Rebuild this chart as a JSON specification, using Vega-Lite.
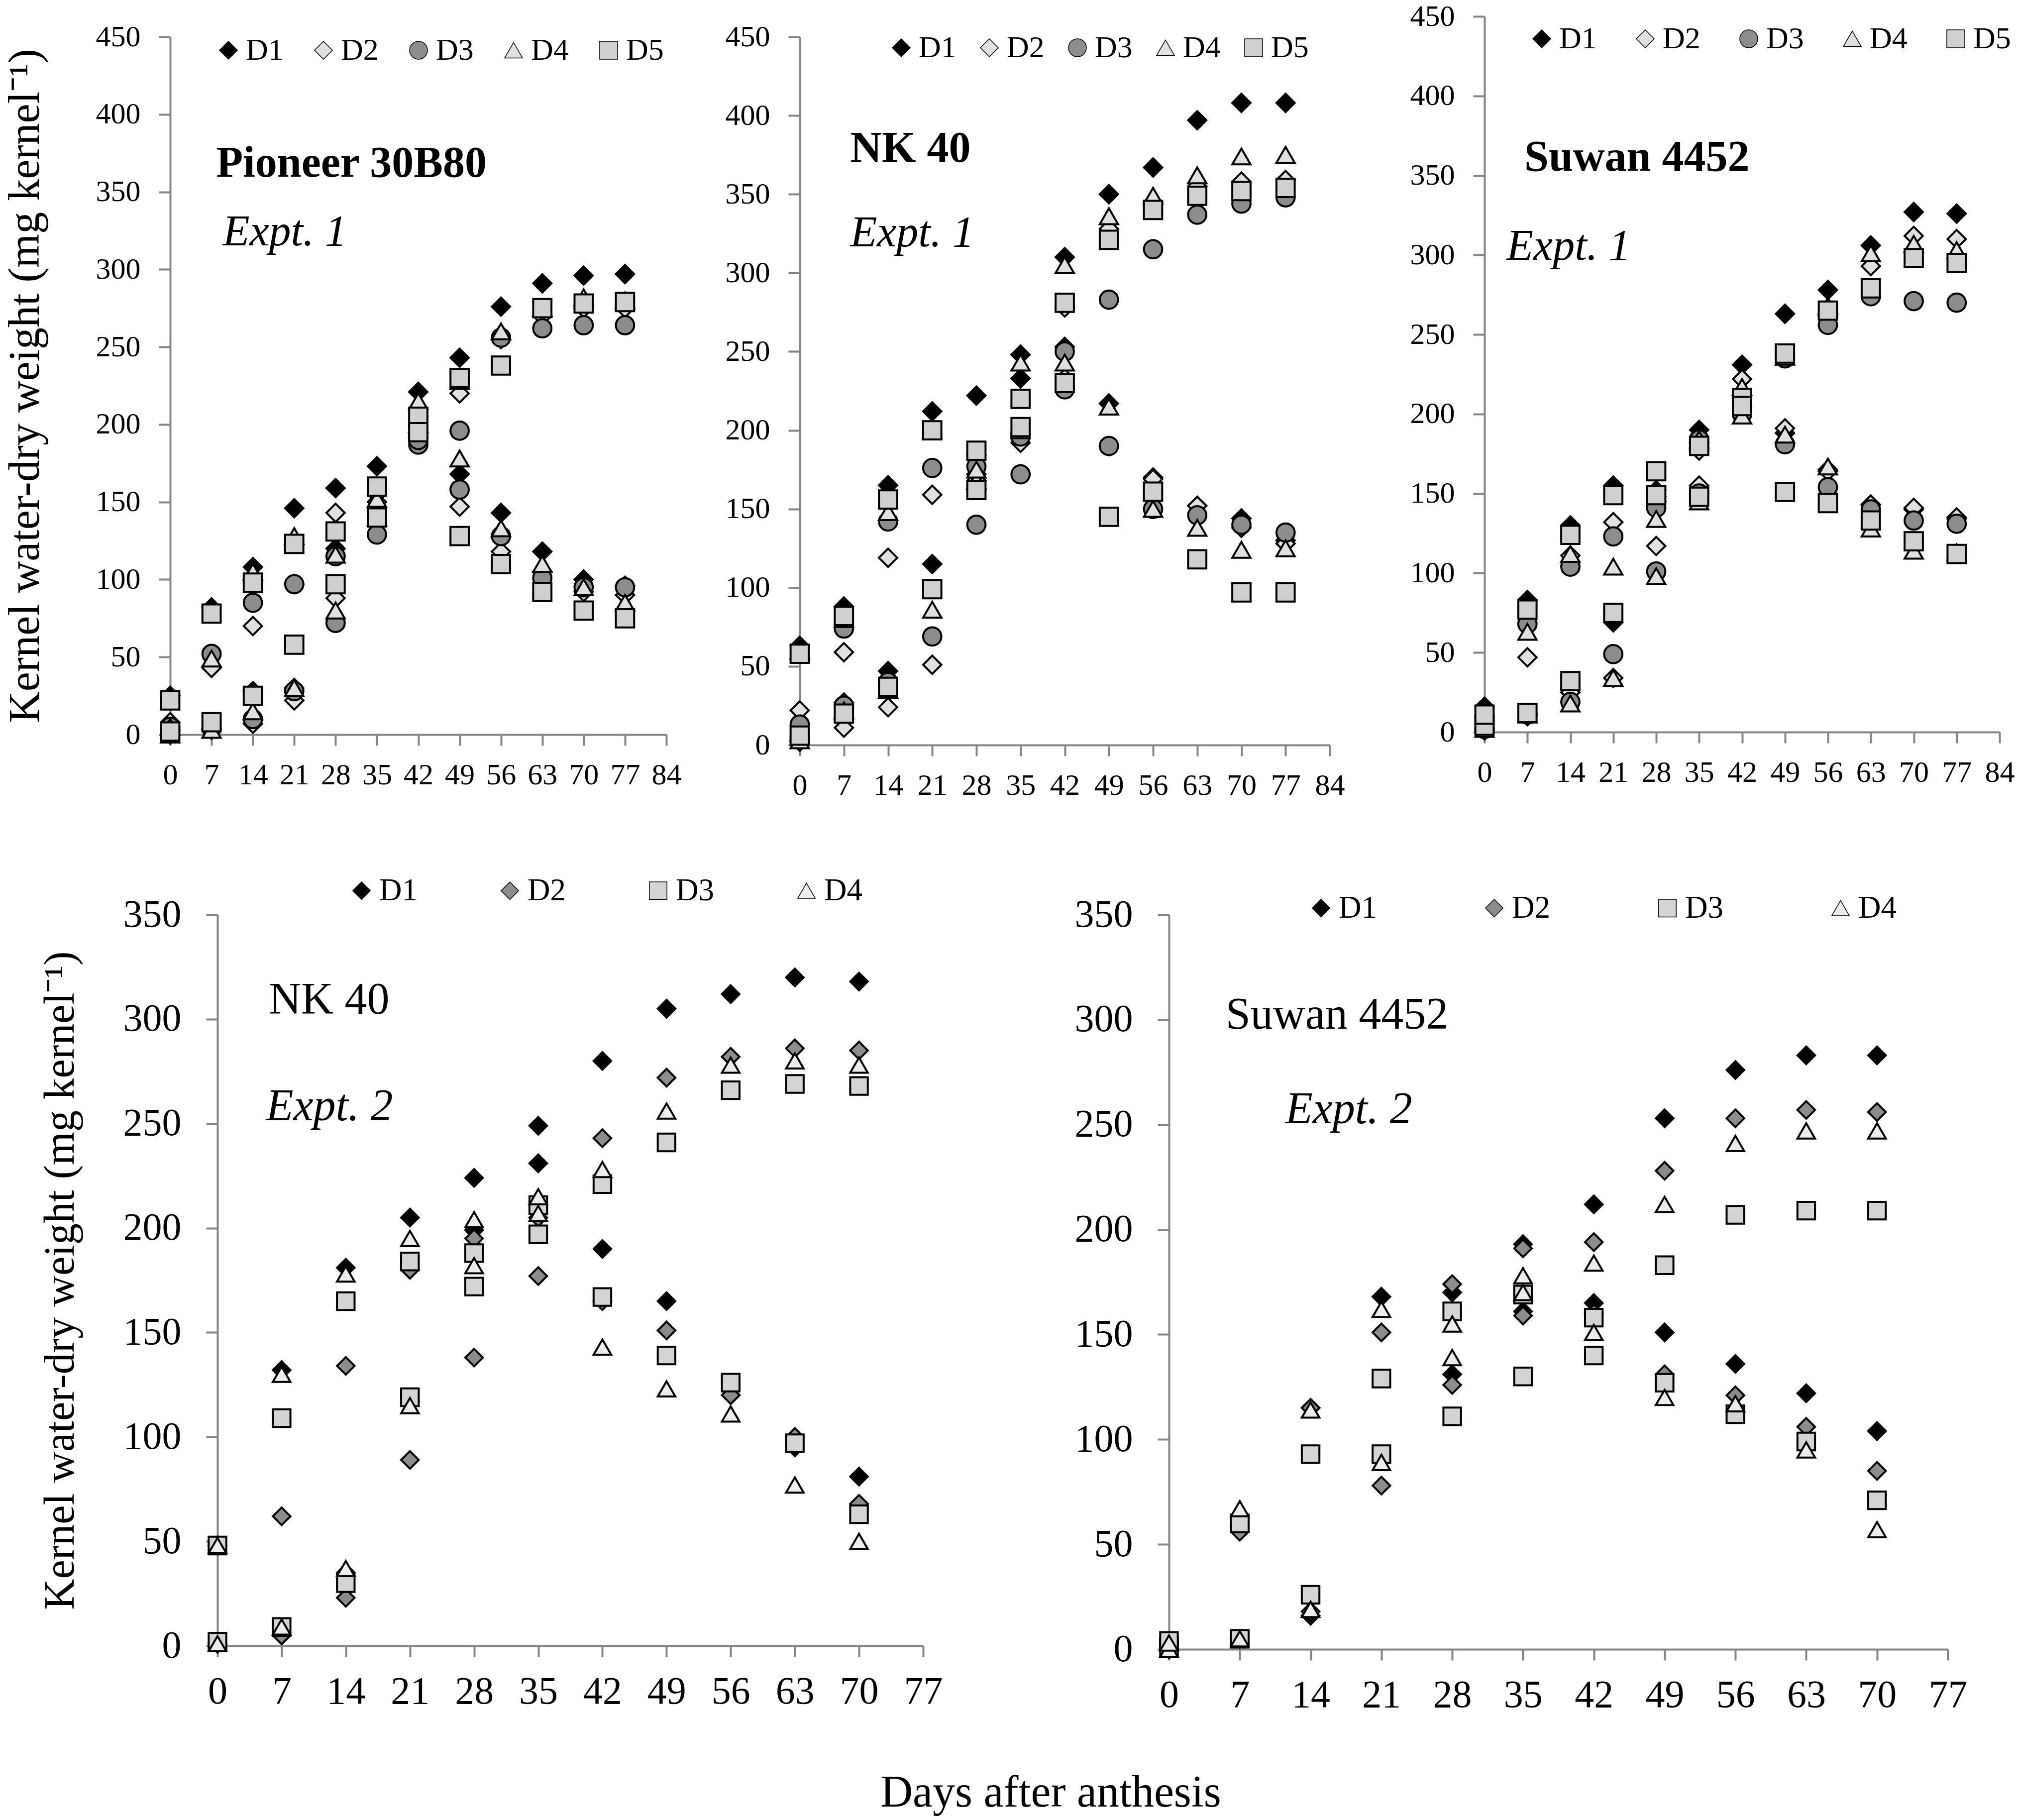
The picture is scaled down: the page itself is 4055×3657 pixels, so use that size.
{
  "$schema": "https://vega.github.io/schema/vega-lite/v6.json",
  "background": "white",
  "padding": {"left": 7, "top": 3, "right": 5, "bottom": 7},
  "config": {
    "font": "Liberation Serif",
    "view": {"stroke": null},
    "axis": {
      "domainColor": "#868686", "tickColor": "#868686", "domainWidth": 4, "tickWidth": 4,
      "grid": false, "labelColor": "black", "labelFont": "Liberation Serif",
      "titleFont": "Liberation Serif", "titleFontWeight": "normal", "titleColor": "black",
      "labelFlush": false, "labelOverlap": false
    },
    "legend": {"labelFont": "Liberation Serif", "labelColor": "black"},
    "title": {"font": "Liberation Serif", "color": "black", "fontWeight": "normal"}
  },
  "title": {
    "text": "Days after anthesis", "orient": "bottom", "anchor": "middle",
    "fontSize": 90, "offset": 114, "dx": 84
  },
  "datasets": {
    "kw": [
      {"p": "A", "s": "D1", "d": 0, "dry": 0, "water": 25},
      {"p": "A", "s": "D1", "d": 7, "dry": 4, "water": 82},
      {"p": "A", "s": "D1", "d": 14, "dry": 28, "water": 108},
      {"p": "A", "s": "D1", "d": 21, "dry": 30, "water": 146},
      {"p": "A", "s": "D1", "d": 28, "dry": 120, "water": 159},
      {"p": "A", "s": "D1", "d": 35, "dry": 155, "water": 173},
      {"p": "A", "s": "D1", "d": 42, "dry": 221, "water": 195},
      {"p": "A", "s": "D1", "d": 49, "dry": 243, "water": 168},
      {"p": "A", "s": "D1", "d": 56, "dry": 276, "water": 143},
      {"p": "A", "s": "D1", "d": 63, "dry": 291, "water": 118},
      {"p": "A", "s": "D1", "d": 70, "dry": 296, "water": 100},
      {"p": "A", "s": "D1", "d": 77, "dry": 297, "water": 96},
      {"p": "A", "s": "D2", "d": 0, "dry": 3, "water": 8},
      {"p": "A", "s": "D2", "d": 7, "dry": 3, "water": 43},
      {"p": "A", "s": "D2", "d": 14, "dry": 7, "water": 70},
      {"p": "A", "s": "D2", "d": 21, "dry": 22, "water": 97},
      {"p": "A", "s": "D2", "d": 28, "dry": 88, "water": 143},
      {"p": "A", "s": "D2", "d": 35, "dry": 145, "water": 150},
      {"p": "A", "s": "D2", "d": 42, "dry": 205, "water": 192},
      {"p": "A", "s": "D2", "d": 49, "dry": 220, "water": 147},
      {"p": "A", "s": "D2", "d": 56, "dry": 255, "water": 118},
      {"p": "A", "s": "D2", "d": 63, "dry": 270, "water": 105},
      {"p": "A", "s": "D2", "d": 70, "dry": 275, "water": 92},
      {"p": "A", "s": "D2", "d": 77, "dry": 275, "water": 90},
      {"p": "A", "s": "D3", "d": 0, "dry": 2, "water": 5},
      {"p": "A", "s": "D3", "d": 7, "dry": 4, "water": 52},
      {"p": "A", "s": "D3", "d": 14, "dry": 10, "water": 85},
      {"p": "A", "s": "D3", "d": 21, "dry": 28, "water": 97},
      {"p": "A", "s": "D3", "d": 28, "dry": 72, "water": 115},
      {"p": "A", "s": "D3", "d": 35, "dry": 129, "water": 145},
      {"p": "A", "s": "D3", "d": 42, "dry": 187, "water": 190},
      {"p": "A", "s": "D3", "d": 49, "dry": 196, "water": 158},
      {"p": "A", "s": "D3", "d": 56, "dry": 256, "water": 128},
      {"p": "A", "s": "D3", "d": 63, "dry": 262, "water": 101},
      {"p": "A", "s": "D3", "d": 70, "dry": 264, "water": 95},
      {"p": "A", "s": "D3", "d": 77, "dry": 264, "water": 95},
      {"p": "A", "s": "D4", "d": 0, "dry": 0, "water": 5},
      {"p": "A", "s": "D4", "d": 7, "dry": 3, "water": 49},
      {"p": "A", "s": "D4", "d": 14, "dry": 15, "water": 105},
      {"p": "A", "s": "D4", "d": 21, "dry": 30, "water": 128},
      {"p": "A", "s": "D4", "d": 28, "dry": 80, "water": 116},
      {"p": "A", "s": "D4", "d": 35, "dry": 140, "water": 152},
      {"p": "A", "s": "D4", "d": 42, "dry": 215, "water": 200},
      {"p": "A", "s": "D4", "d": 49, "dry": 228, "water": 178},
      {"p": "A", "s": "D4", "d": 56, "dry": 260, "water": 133},
      {"p": "A", "s": "D4", "d": 63, "dry": 275, "water": 110},
      {"p": "A", "s": "D4", "d": 70, "dry": 282, "water": 95},
      {"p": "A", "s": "D4", "d": 77, "dry": 280, "water": 85},
      {"p": "A", "s": "D5", "d": 0, "dry": 2, "water": 22},
      {"p": "A", "s": "D5", "d": 7, "dry": 8, "water": 78},
      {"p": "A", "s": "D5", "d": 14, "dry": 25, "water": 98},
      {"p": "A", "s": "D5", "d": 21, "dry": 58, "water": 123},
      {"p": "A", "s": "D5", "d": 28, "dry": 97, "water": 131},
      {"p": "A", "s": "D5", "d": 35, "dry": 140, "water": 160},
      {"p": "A", "s": "D5", "d": 42, "dry": 205, "water": 195},
      {"p": "A", "s": "D5", "d": 49, "dry": 230, "water": 128},
      {"p": "A", "s": "D5", "d": 56, "dry": 238, "water": 110},
      {"p": "A", "s": "D5", "d": 63, "dry": 275, "water": 92},
      {"p": "A", "s": "D5", "d": 70, "dry": 278, "water": 80},
      {"p": "A", "s": "D5", "d": 77, "dry": 279, "water": 75},

      {"p": "B", "s": "D1", "d": 0, "dry": 2, "water": 63},
      {"p": "B", "s": "D1", "d": 7, "dry": 27, "water": 88},
      {"p": "B", "s": "D1", "d": 14, "dry": 47, "water": 165},
      {"p": "B", "s": "D1", "d": 21, "dry": 115, "water": 212},
      {"p": "B", "s": "D1", "d": 28, "dry": 184, "water": 222},
      {"p": "B", "s": "D1", "d": 35, "dry": 233, "water": 248},
      {"p": "B", "s": "D1", "d": 42, "dry": 310, "water": 253},
      {"p": "B", "s": "D1", "d": 49, "dry": 350, "water": 217},
      {"p": "B", "s": "D1", "d": 56, "dry": 367, "water": 170},
      {"p": "B", "s": "D1", "d": 63, "dry": 397, "water": 152},
      {"p": "B", "s": "D1", "d": 70, "dry": 408, "water": 144},
      {"p": "B", "s": "D1", "d": 77, "dry": 408, "water": 130},
      {"p": "B", "s": "D2", "d": 0, "dry": 3, "water": 22},
      {"p": "B", "s": "D2", "d": 7, "dry": 11, "water": 59},
      {"p": "B", "s": "D2", "d": 14, "dry": 24, "water": 119},
      {"p": "B", "s": "D2", "d": 21, "dry": 51, "water": 159},
      {"p": "B", "s": "D2", "d": 28, "dry": 168, "water": 172},
      {"p": "B", "s": "D2", "d": 35, "dry": 192, "water": 198},
      {"p": "B", "s": "D2", "d": 42, "dry": 278, "water": 233},
      {"p": "B", "s": "D2", "d": 49, "dry": 328, "water": 190},
      {"p": "B", "s": "D2", "d": 56, "dry": 345, "water": 169},
      {"p": "B", "s": "D2", "d": 63, "dry": 355, "water": 152},
      {"p": "B", "s": "D2", "d": 70, "dry": 358, "water": 138},
      {"p": "B", "s": "D2", "d": 77, "dry": 359, "water": 128},
      {"p": "B", "s": "D3", "d": 0, "dry": 5, "water": 13},
      {"p": "B", "s": "D3", "d": 7, "dry": 25, "water": 74},
      {"p": "B", "s": "D3", "d": 14, "dry": 40, "water": 142},
      {"p": "B", "s": "D3", "d": 21, "dry": 69, "water": 176},
      {"p": "B", "s": "D3", "d": 28, "dry": 140, "water": 177},
      {"p": "B", "s": "D3", "d": 35, "dry": 172, "water": 196},
      {"p": "B", "s": "D3", "d": 42, "dry": 250, "water": 226},
      {"p": "B", "s": "D3", "d": 49, "dry": 283, "water": 190},
      {"p": "B", "s": "D3", "d": 56, "dry": 315, "water": 150},
      {"p": "B", "s": "D3", "d": 63, "dry": 337, "water": 146},
      {"p": "B", "s": "D3", "d": 70, "dry": 344, "water": 140},
      {"p": "B", "s": "D3", "d": 77, "dry": 348, "water": 135},
      {"p": "B", "s": "D4", "d": 0, "dry": 3, "water": 60},
      {"p": "B", "s": "D4", "d": 7, "dry": 22, "water": 80},
      {"p": "B", "s": "D4", "d": 14, "dry": 35, "water": 148},
      {"p": "B", "s": "D4", "d": 21, "dry": 86, "water": 200},
      {"p": "B", "s": "D4", "d": 28, "dry": 168, "water": 175},
      {"p": "B", "s": "D4", "d": 35, "dry": 200, "water": 243},
      {"p": "B", "s": "D4", "d": 42, "dry": 305, "water": 243},
      {"p": "B", "s": "D4", "d": 49, "dry": 336, "water": 215},
      {"p": "B", "s": "D4", "d": 56, "dry": 349, "water": 150},
      {"p": "B", "s": "D4", "d": 63, "dry": 362, "water": 138},
      {"p": "B", "s": "D4", "d": 70, "dry": 374, "water": 124},
      {"p": "B", "s": "D4", "d": 77, "dry": 375, "water": 125},
      {"p": "B", "s": "D5", "d": 0, "dry": 6, "water": 58},
      {"p": "B", "s": "D5", "d": 7, "dry": 20, "water": 82},
      {"p": "B", "s": "D5", "d": 14, "dry": 37, "water": 156},
      {"p": "B", "s": "D5", "d": 21, "dry": 99, "water": 200},
      {"p": "B", "s": "D5", "d": 28, "dry": 162, "water": 187},
      {"p": "B", "s": "D5", "d": 35, "dry": 202, "water": 220},
      {"p": "B", "s": "D5", "d": 42, "dry": 281, "water": 230},
      {"p": "B", "s": "D5", "d": 49, "dry": 321, "water": 145},
      {"p": "B", "s": "D5", "d": 56, "dry": 340, "water": 161},
      {"p": "B", "s": "D5", "d": 63, "dry": 349, "water": 118},
      {"p": "B", "s": "D5", "d": 70, "dry": 352, "water": 97},
      {"p": "B", "s": "D5", "d": 77, "dry": 354, "water": 97},

      {"p": "C", "s": "D1", "d": 0, "dry": 1, "water": 16},
      {"p": "C", "s": "D1", "d": 7, "dry": 10, "water": 83},
      {"p": "C", "s": "D1", "d": 14, "dry": 27, "water": 130},
      {"p": "C", "s": "D1", "d": 21, "dry": 69, "water": 155},
      {"p": "C", "s": "D1", "d": 28, "dry": 148, "water": 152},
      {"p": "C", "s": "D1", "d": 35, "dry": 182, "water": 190},
      {"p": "C", "s": "D1", "d": 42, "dry": 231, "water": 205},
      {"p": "C", "s": "D1", "d": 49, "dry": 263, "water": 188},
      {"p": "C", "s": "D1", "d": 56, "dry": 278, "water": 165},
      {"p": "C", "s": "D1", "d": 63, "dry": 306, "water": 143},
      {"p": "C", "s": "D1", "d": 70, "dry": 327, "water": 140},
      {"p": "C", "s": "D1", "d": 77, "dry": 326, "water": 134},
      {"p": "C", "s": "D2", "d": 0, "dry": 2, "water": 10},
      {"p": "C", "s": "D2", "d": 7, "dry": 11, "water": 47},
      {"p": "C", "s": "D2", "d": 14, "dry": 25, "water": 111},
      {"p": "C", "s": "D2", "d": 21, "dry": 34, "water": 132},
      {"p": "C", "s": "D2", "d": 28, "dry": 117, "water": 145},
      {"p": "C", "s": "D2", "d": 35, "dry": 155, "water": 177},
      {"p": "C", "s": "D2", "d": 42, "dry": 222, "water": 210},
      {"p": "C", "s": "D2", "d": 49, "dry": 236, "water": 191},
      {"p": "C", "s": "D2", "d": 56, "dry": 262, "water": 164},
      {"p": "C", "s": "D2", "d": 63, "dry": 293, "water": 143},
      {"p": "C", "s": "D2", "d": 70, "dry": 312, "water": 141},
      {"p": "C", "s": "D2", "d": 77, "dry": 310, "water": 135},
      {"p": "C", "s": "D3", "d": 0, "dry": 2, "water": 10},
      {"p": "C", "s": "D3", "d": 7, "dry": 11, "water": 68},
      {"p": "C", "s": "D3", "d": 14, "dry": 19, "water": 104},
      {"p": "C", "s": "D3", "d": 21, "dry": 49, "water": 123},
      {"p": "C", "s": "D3", "d": 28, "dry": 101, "water": 141},
      {"p": "C", "s": "D3", "d": 35, "dry": 150, "water": 184},
      {"p": "C", "s": "D3", "d": 42, "dry": 205, "water": 200},
      {"p": "C", "s": "D3", "d": 49, "dry": 235, "water": 181},
      {"p": "C", "s": "D3", "d": 56, "dry": 256, "water": 154},
      {"p": "C", "s": "D3", "d": 63, "dry": 274, "water": 140},
      {"p": "C", "s": "D3", "d": 70, "dry": 271, "water": 133},
      {"p": "C", "s": "D3", "d": 77, "dry": 270, "water": 131},
      {"p": "C", "s": "D4", "d": 0, "dry": 2, "water": 10},
      {"p": "C", "s": "D4", "d": 7, "dry": 11, "water": 63},
      {"p": "C", "s": "D4", "d": 14, "dry": 18, "water": 112},
      {"p": "C", "s": "D4", "d": 21, "dry": 34, "water": 104},
      {"p": "C", "s": "D4", "d": 28, "dry": 98, "water": 134},
      {"p": "C", "s": "D4", "d": 35, "dry": 145, "water": 184},
      {"p": "C", "s": "D4", "d": 42, "dry": 217, "water": 199},
      {"p": "C", "s": "D4", "d": 49, "dry": 236, "water": 187},
      {"p": "C", "s": "D4", "d": 56, "dry": 268, "water": 167},
      {"p": "C", "s": "D4", "d": 63, "dry": 301, "water": 128},
      {"p": "C", "s": "D4", "d": 70, "dry": 307, "water": 114},
      {"p": "C", "s": "D4", "d": 77, "dry": 303, "water": 113},
      {"p": "C", "s": "D5", "d": 0, "dry": 4, "water": 11},
      {"p": "C", "s": "D5", "d": 7, "dry": 12, "water": 77},
      {"p": "C", "s": "D5", "d": 14, "dry": 32, "water": 124},
      {"p": "C", "s": "D5", "d": 21, "dry": 75, "water": 149},
      {"p": "C", "s": "D5", "d": 28, "dry": 149, "water": 164},
      {"p": "C", "s": "D5", "d": 35, "dry": 148, "water": 180},
      {"p": "C", "s": "D5", "d": 42, "dry": 210, "water": 205},
      {"p": "C", "s": "D5", "d": 49, "dry": 238, "water": 151},
      {"p": "C", "s": "D5", "d": 56, "dry": 265, "water": 144},
      {"p": "C", "s": "D5", "d": 63, "dry": 279, "water": 133},
      {"p": "C", "s": "D5", "d": 70, "dry": 298, "water": 120},
      {"p": "C", "s": "D5", "d": 77, "dry": 295, "water": 112},

      {"p": "D", "s": "D1", "d": 0, "dry": 1, "water": 48},
      {"p": "D", "s": "D1", "d": 7, "dry": 5, "water": 132},
      {"p": "D", "s": "D1", "d": 14, "dry": 35, "water": 181},
      {"p": "D", "s": "D1", "d": 21, "dry": 117, "water": 205},
      {"p": "D", "s": "D1", "d": 28, "dry": 199, "water": 224},
      {"p": "D", "s": "D1", "d": 35, "dry": 249, "water": 231},
      {"p": "D", "s": "D1", "d": 42, "dry": 280, "water": 190},
      {"p": "D", "s": "D1", "d": 49, "dry": 305, "water": 165},
      {"p": "D", "s": "D1", "d": 56, "dry": 312, "water": 120},
      {"p": "D", "s": "D1", "d": 63, "dry": 320, "water": 95},
      {"p": "D", "s": "D1", "d": 70, "dry": 318, "water": 81},
      {"p": "D", "s": "D2", "d": 0, "dry": 1, "water": 48},
      {"p": "D", "s": "D2", "d": 7, "dry": 5, "water": 62},
      {"p": "D", "s": "D2", "d": 14, "dry": 23, "water": 134},
      {"p": "D", "s": "D2", "d": 21, "dry": 89, "water": 180},
      {"p": "D", "s": "D2", "d": 28, "dry": 138, "water": 195},
      {"p": "D", "s": "D2", "d": 35, "dry": 177, "water": 205},
      {"p": "D", "s": "D2", "d": 42, "dry": 243, "water": 165},
      {"p": "D", "s": "D2", "d": 49, "dry": 272, "water": 151},
      {"p": "D", "s": "D2", "d": 56, "dry": 282, "water": 120},
      {"p": "D", "s": "D2", "d": 63, "dry": 286, "water": 100},
      {"p": "D", "s": "D2", "d": 70, "dry": 285, "water": 68},
      {"p": "D", "s": "D3", "d": 0, "dry": 2, "water": 48},
      {"p": "D", "s": "D3", "d": 7, "dry": 9, "water": 109},
      {"p": "D", "s": "D3", "d": 14, "dry": 30, "water": 165},
      {"p": "D", "s": "D3", "d": 21, "dry": 119, "water": 184},
      {"p": "D", "s": "D3", "d": 28, "dry": 172, "water": 188},
      {"p": "D", "s": "D3", "d": 35, "dry": 211, "water": 197},
      {"p": "D", "s": "D3", "d": 42, "dry": 221, "water": 167},
      {"p": "D", "s": "D3", "d": 49, "dry": 241, "water": 139},
      {"p": "D", "s": "D3", "d": 56, "dry": 266, "water": 126},
      {"p": "D", "s": "D3", "d": 63, "dry": 269, "water": 97},
      {"p": "D", "s": "D3", "d": 70, "dry": 268, "water": 63},
      {"p": "D", "s": "D4", "d": 0, "dry": 1, "water": 48},
      {"p": "D", "s": "D4", "d": 7, "dry": 9, "water": 130},
      {"p": "D", "s": "D4", "d": 14, "dry": 37, "water": 178},
      {"p": "D", "s": "D4", "d": 21, "dry": 115, "water": 195},
      {"p": "D", "s": "D4", "d": 28, "dry": 182, "water": 204},
      {"p": "D", "s": "D4", "d": 35, "dry": 215, "water": 207},
      {"p": "D", "s": "D4", "d": 42, "dry": 228, "water": 143},
      {"p": "D", "s": "D4", "d": 49, "dry": 256, "water": 123},
      {"p": "D", "s": "D4", "d": 56, "dry": 278, "water": 111},
      {"p": "D", "s": "D4", "d": 63, "dry": 280, "water": 77},
      {"p": "D", "s": "D4", "d": 70, "dry": 278, "water": 50},

      {"p": "E", "s": "D1", "d": 0, "dry": 0, "water": 3},
      {"p": "E", "s": "D1", "d": 7, "dry": 5, "water": 58},
      {"p": "E", "s": "D1", "d": 14, "dry": 16, "water": 115},
      {"p": "E", "s": "D1", "d": 21, "dry": 90, "water": 168},
      {"p": "E", "s": "D1", "d": 28, "dry": 131, "water": 170},
      {"p": "E", "s": "D1", "d": 35, "dry": 161, "water": 193},
      {"p": "E", "s": "D1", "d": 42, "dry": 212, "water": 165},
      {"p": "E", "s": "D1", "d": 49, "dry": 253, "water": 151},
      {"p": "E", "s": "D1", "d": 56, "dry": 276, "water": 136},
      {"p": "E", "s": "D1", "d": 63, "dry": 283, "water": 122},
      {"p": "E", "s": "D1", "d": 70, "dry": 283, "water": 104},
      {"p": "E", "s": "D2", "d": 0, "dry": 0, "water": 3},
      {"p": "E", "s": "D2", "d": 7, "dry": 5, "water": 56},
      {"p": "E", "s": "D2", "d": 14, "dry": 18, "water": 115},
      {"p": "E", "s": "D2", "d": 21, "dry": 78, "water": 151},
      {"p": "E", "s": "D2", "d": 28, "dry": 126, "water": 174},
      {"p": "E", "s": "D2", "d": 35, "dry": 159, "water": 191},
      {"p": "E", "s": "D2", "d": 42, "dry": 194, "water": 160},
      {"p": "E", "s": "D2", "d": 49, "dry": 228, "water": 131},
      {"p": "E", "s": "D2", "d": 56, "dry": 253, "water": 121},
      {"p": "E", "s": "D2", "d": 63, "dry": 257, "water": 106},
      {"p": "E", "s": "D2", "d": 70, "dry": 256, "water": 85},
      {"p": "E", "s": "D3", "d": 0, "dry": 1, "water": 4},
      {"p": "E", "s": "D3", "d": 7, "dry": 5, "water": 60},
      {"p": "E", "s": "D3", "d": 14, "dry": 26, "water": 93},
      {"p": "E", "s": "D3", "d": 21, "dry": 93, "water": 129},
      {"p": "E", "s": "D3", "d": 28, "dry": 111, "water": 161},
      {"p": "E", "s": "D3", "d": 35, "dry": 130, "water": 169},
      {"p": "E", "s": "D3", "d": 42, "dry": 140, "water": 158},
      {"p": "E", "s": "D3", "d": 49, "dry": 183, "water": 127},
      {"p": "E", "s": "D3", "d": 56, "dry": 207, "water": 112},
      {"p": "E", "s": "D3", "d": 63, "dry": 209, "water": 99},
      {"p": "E", "s": "D3", "d": 70, "dry": 209, "water": 71},
      {"p": "E", "s": "D4", "d": 0, "dry": 0, "water": 3},
      {"p": "E", "s": "D4", "d": 7, "dry": 5, "water": 67},
      {"p": "E", "s": "D4", "d": 14, "dry": 19, "water": 114},
      {"p": "E", "s": "D4", "d": 21, "dry": 89, "water": 162},
      {"p": "E", "s": "D4", "d": 28, "dry": 139, "water": 155},
      {"p": "E", "s": "D4", "d": 35, "dry": 170, "water": 178},
      {"p": "E", "s": "D4", "d": 42, "dry": 184, "water": 151},
      {"p": "E", "s": "D4", "d": 49, "dry": 212, "water": 120},
      {"p": "E", "s": "D4", "d": 56, "dry": 241, "water": 117},
      {"p": "E", "s": "D4", "d": 63, "dry": 247, "water": 95},
      {"p": "E", "s": "D4", "d": 70, "dry": 247, "water": 57}
    ]
  },
  "vconcat": [
    {
      "hconcat": [
        {
          "vconcat": [
            {"width": 1, "height": 1, "data": {"values": []}, "mark": "point", "encoding": {}, "view": {"fill": "white", "stroke": null}},
            {
              "hconcat": [
                {
                  "width": 997,
                  "height": 1402,
                  "layer": [
                    {
                      "data": {"name": "kw"},
                      "transform": [
                        {"filter": "datum.p === 'A'"},
                        {"fold": ["dry", "water"], "as": ["trait", "weight"]}
                      ],
                      "mark": {"type": "point", "filled": true, "stroke": "black", "strokeWidth": 4, "size": 1350, "opacity": 1},
                      "encoding": {
                        "x": {"field": "d", "type": "quantitative",
                          "scale": {"domain": [0, 84], "nice": false, "zero": false},
                          "axis": {"values": [0, 7, 14, 21, 28, 35, 42, 49, 56, 63, 70, 77, 84], "title": null,
                            "labelFontSize": 60, "labelPadding": 30, "tickSize": 22}},
                        "y": {"field": "weight", "type": "quantitative",
                          "scale": {"domain": [0, 450], "nice": false},
                          "axis": {"values": [0, 50, 100, 150, 200, 250, 300, 350, 400, 450],
                            "title": "Kernel water-dry weight (mg kernel⁻¹)", "titleFontSize": 88, "titlePadding": 97,
                            "labelFontSize": 60, "labelPadding": 37, "tickSize": 23}},
                        "shape": {"field": "s", "type": "nominal",
                          "scale": {"domain": ["D1", "D2", "D3", "D4", "D5"], "range": ["diamond", "diamond", "circle", "triangle-up", "square"]},
                          "legend": {"orient": "none", "legendX": 86, "legendY": -4, "direction": "horizontal", "title": null,
                            "labelFontSize": 62, "symbolSize": 1300, "columnPadding": 49, "labelOffset": 4, "padding": 0,
                            "encode": {"symbols": {"update": {"stroke": {"value": "black"}, "strokeWidth": {"value": 4}}}}}},
                        "fill": {"field": "s", "type": "nominal",
                          "scale": {"domain": ["D1", "D2", "D3", "D4", "D5"], "range": ["#000000", "#e0e0e0", "#8c8c8c", "#e0e0e0", "#d0d0d0"]},
                          "legend": {"orient": "none", "legendX": 86, "legendY": -4, "direction": "horizontal", "title": null,
                            "labelFontSize": 62, "symbolSize": 1300, "columnPadding": 49, "labelOffset": 4, "padding": 0,
                            "encode": {"symbols": {"update": {"stroke": {"value": "black"}, "strokeWidth": {"value": 4}}}}}}
                      }
                    },
                    {
                      "data": {"values": [{"label": "Pioneer 30B80"}]},
                      "mark": {"type": "text", "align": "left", "baseline": "middle", "fontSize": 88, "fontWeight": "bold", "font": "Liberation Serif", "color": "black"},
                      "encoding": {"x": {"datum": 7.8, "type": "quantitative"}, "y": {"datum": 368, "type": "quantitative"}, "text": {"field": "label"}}
                    },
                    {
                      "data": {"values": [{"label": "Expt. 1"}]},
                      "mark": {"type": "text", "align": "left", "baseline": "middle", "fontSize": 88, "fontStyle": "italic", "font": "Liberation Serif", "color": "black"},
                      "encoding": {"x": {"datum": 8.9, "type": "quantitative"}, "y": {"datum": 324, "type": "quantitative"}, "text": {"field": "label"}}
                    }
                  ]
                },
                {
                  "width": 1065,
                  "height": 1423,
                  "layer": [
                    {
                      "data": {"name": "kw"},
                      "transform": [
                        {"filter": "datum.p === 'B'"},
                        {"fold": ["dry", "water"], "as": ["trait", "weight"]}
                      ],
                      "mark": {"type": "point", "filled": true, "stroke": "black", "strokeWidth": 4, "size": 1350, "opacity": 1},
                      "encoding": {
                        "x": {"field": "d", "type": "quantitative",
                          "scale": {"domain": [0, 84], "nice": false, "zero": false},
                          "axis": {"values": [0, 7, 14, 21, 28, 35, 42, 49, 56, 63, 70, 77, 84], "title": null,
                            "labelFontSize": 60, "labelPadding": 30, "tickSize": 22}},
                        "y": {"field": "weight", "type": "quantitative",
                          "scale": {"domain": [0, 450], "nice": false},
                          "axis": {"values": [0, 50, 100, 150, 200, 250, 300, 350, 400, 450], "title": null,
                            "labelFontSize": 60, "labelPadding": 37, "tickSize": 23}},
                        "shape": {"field": "s", "type": "nominal",
                          "scale": {"domain": ["D1", "D2", "D3", "D4", "D5"], "range": ["diamond", "diamond", "circle", "triangle-up", "square"]},
                          "legend": {"orient": "none", "legendX": 173, "legendY": -9, "direction": "horizontal", "title": null,
                            "labelFontSize": 62, "symbolSize": 1300, "columnPadding": 35, "labelOffset": 4, "padding": 0,
                            "encode": {"symbols": {"update": {"stroke": {"value": "black"}, "strokeWidth": {"value": 4}}}}}},
                        "fill": {"field": "s", "type": "nominal",
                          "scale": {"domain": ["D1", "D2", "D3", "D4", "D5"], "range": ["#000000", "#e0e0e0", "#8c8c8c", "#e0e0e0", "#d0d0d0"]},
                          "legend": {"orient": "none", "legendX": 173, "legendY": -9, "direction": "horizontal", "title": null,
                            "labelFontSize": 62, "symbolSize": 1300, "columnPadding": 35, "labelOffset": 4, "padding": 0,
                            "encode": {"symbols": {"update": {"stroke": {"value": "black"}, "strokeWidth": {"value": 4}}}}}}
                      }
                    },
                    {
                      "data": {"values": [{"label": "NK 40"}]},
                      "mark": {"type": "text", "align": "left", "baseline": "middle", "fontSize": 88, "fontWeight": "bold", "font": "Liberation Serif", "color": "black"},
                      "encoding": {"x": {"datum": 8.0, "type": "quantitative"}, "y": {"datum": 379, "type": "quantitative"}, "text": {"field": "label"}}
                    },
                    {
                      "data": {"values": [{"label": "Expt. 1"}]},
                      "mark": {"type": "text", "align": "left", "baseline": "middle", "fontSize": 88, "fontStyle": "italic", "font": "Liberation Serif", "color": "black"},
                      "encoding": {"x": {"datum": 8.0, "type": "quantitative"}, "y": {"datum": 325, "type": "quantitative"}, "text": {"field": "label"}}
                    }
                  ]
                }
              ],
              "spacing": 88,
              "resolve": {"scale": {"x": "independent", "y": "independent", "shape": "independent", "fill": "independent"},
                "legend": {"shape": "independent", "fill": "independent"}}
            }
          ],
          "spacing": 10,
          "resolve": {"scale": {"x": "independent", "y": "independent", "shape": "independent", "fill": "independent"},
            "legend": {"shape": "independent", "fill": "independent"}}
        },
        {
          "width": 1035,
          "height": 1438,
          "layer": [
            {
              "data": {"name": "kw"},
              "transform": [
                {"filter": "datum.p === 'C'"},
                {"fold": ["dry", "water"], "as": ["trait", "weight"]}
              ],
              "mark": {"type": "point", "filled": true, "stroke": "black", "strokeWidth": 4, "size": 1350, "opacity": 1},
              "encoding": {
                "x": {"field": "d", "type": "quantitative",
                  "scale": {"domain": [0, 84], "nice": false, "zero": false},
                  "axis": {"values": [0, 7, 14, 21, 28, 35, 42, 49, 56, 63, 70, 77, 84], "title": null,
                    "labelFontSize": 60, "labelPadding": 30, "tickSize": 22}},
                "y": {"field": "weight", "type": "quantitative",
                  "scale": {"domain": [0, 450], "nice": false},
                  "axis": {"values": [0, 50, 100, 150, 200, 250, 300, 350, 400, 450], "title": null,
                    "labelFontSize": 60, "labelPadding": 37, "tickSize": 23}},
                "shape": {"field": "s", "type": "nominal",
                  "scale": {"domain": ["D1", "D2", "D3", "D4", "D5"], "range": ["diamond", "diamond", "circle", "triangle-up", "square"]},
                  "legend": {"orient": "none", "legendX": 84, "legendY": 14, "direction": "horizontal", "title": null,
                    "labelFontSize": 62, "symbolSize": 1300, "columnPadding": 66, "labelOffset": 4, "padding": 0,
                    "encode": {"symbols": {"update": {"stroke": {"value": "black"}, "strokeWidth": {"value": 4}}}}}},
                "fill": {"field": "s", "type": "nominal",
                  "scale": {"domain": ["D1", "D2", "D3", "D4", "D5"], "range": ["#000000", "#e0e0e0", "#8c8c8c", "#e0e0e0", "#d0d0d0"]},
                  "legend": {"orient": "none", "legendX": 84, "legendY": 14, "direction": "horizontal", "title": null,
                    "labelFontSize": 62, "symbolSize": 1300, "columnPadding": 66, "labelOffset": 4, "padding": 0,
                    "encode": {"symbols": {"update": {"stroke": {"value": "black"}, "strokeWidth": {"value": 4}}}}}}
              }
            },
            {
              "data": {"values": [{"label": "Suwan 4452"}]},
              "mark": {"type": "text", "align": "left", "baseline": "middle", "fontSize": 88, "fontWeight": "bold", "font": "Liberation Serif", "color": "black"},
              "encoding": {"x": {"datum": 6.5, "type": "quantitative"}, "y": {"datum": 361, "type": "quantitative"}, "text": {"field": "label"}}
            },
            {
              "data": {"values": [{"label": "Expt. 1"}]},
              "mark": {"type": "text", "align": "left", "baseline": "middle", "fontSize": 88, "fontStyle": "italic", "font": "Liberation Serif", "color": "black"},
              "encoding": {"x": {"datum": 3.6, "type": "quantitative"}, "y": {"datum": 305, "type": "quantitative"}, "text": {"field": "label"}}
            }
          ]
        }
      ],
      "spacing": 131,
      "resolve": {"scale": {"x": "independent", "y": "independent", "shape": "independent", "fill": "independent"},
        "legend": {"shape": "independent", "fill": "independent"}}
    },
    {
      "hconcat": [
        {
          "width": 1418,
          "height": 1469,
          "layer": [
            {
              "data": {"name": "kw"},
              "transform": [
                {"filter": "datum.p === 'D'"},
                {"fold": ["dry", "water"], "as": ["trait", "weight"]}
              ],
              "mark": {"type": "point", "filled": true, "stroke": "black", "strokeWidth": 4, "size": 1250, "opacity": 1},
              "encoding": {
                "x": {"field": "d", "type": "quantitative",
                  "scale": {"domain": [0, 77], "nice": false, "zero": false},
                  "axis": {"values": [0, 7, 14, 21, 28, 35, 42, 49, 56, 63, 70, 77], "title": null,
                    "labelFontSize": 78, "labelPadding": 31, "tickSize": 22}},
                "y": {"field": "weight", "type": "quantitative",
                  "scale": {"domain": [0, 350], "nice": false},
                  "axis": {"values": [0, 50, 100, 150, 200, 250, 300, 350],
                    "title": "Kernel water-dry weight (mg kernel⁻¹)", "titleFontSize": 86, "titlePadding": 82,
                    "labelFontSize": 78, "labelPadding": 50, "tickSize": 23}},
                "shape": {"field": "s", "type": "nominal",
                  "scale": {"domain": ["D1", "D2", "D3", "D4"], "range": ["diamond", "diamond", "square", "triangle-up"]},
                  "legend": {"orient": "none", "legendX": 258, "legendY": -80, "direction": "horizontal", "title": null,
                    "labelFontSize": 63, "symbolSize": 1250, "columnPadding": 154, "labelOffset": 4, "padding": 0,
                    "encode": {"symbols": {"update": {"stroke": {"value": "black"}, "strokeWidth": {"value": 4}}}}}},
                "fill": {"field": "s", "type": "nominal",
                  "scale": {"domain": ["D1", "D2", "D3", "D4"], "range": ["#000000", "#8c8c8c", "#d4d4d4", "#ececec"]},
                  "legend": {"orient": "none", "legendX": 258, "legendY": -80, "direction": "horizontal", "title": null,
                    "labelFontSize": 63, "symbolSize": 1250, "columnPadding": 154, "labelOffset": 4, "padding": 0,
                    "encode": {"symbols": {"update": {"stroke": {"value": "black"}, "strokeWidth": {"value": 4}}}}}}
              }
            },
            {
              "data": {"values": [{"label": "NK 40"}]},
              "mark": {"type": "text", "align": "left", "baseline": "middle", "fontSize": 90, "font": "Liberation Serif", "color": "black"},
              "encoding": {"x": {"datum": 5.6, "type": "quantitative"}, "y": {"datum": 309, "type": "quantitative"}, "text": {"field": "label"}}
            },
            {
              "data": {"values": [{"label": "Expt. 2"}]},
              "mark": {"type": "text", "align": "left", "baseline": "middle", "fontSize": 90, "fontStyle": "italic", "font": "Liberation Serif", "color": "black"},
              "encoding": {"x": {"datum": 5.3, "type": "quantitative"}, "y": {"datum": 258, "type": "quantitative"}, "text": {"field": "label"}}
            }
          ]
        },
        {
          "width": 1565,
          "height": 1476,
          "layer": [
            {
              "data": {"name": "kw"},
              "transform": [
                {"filter": "datum.p === 'E'"},
                {"fold": ["dry", "water"], "as": ["trait", "weight"]}
              ],
              "mark": {"type": "point", "filled": true, "stroke": "black", "strokeWidth": 4, "size": 1250, "opacity": 1},
              "encoding": {
                "x": {"field": "d", "type": "quantitative",
                  "scale": {"domain": [0, 77], "nice": false, "zero": false},
                  "axis": {"values": [0, 7, 14, 21, 28, 35, 42, 49, 56, 63, 70, 77], "title": null,
                    "labelFontSize": 78, "labelPadding": 31, "tickSize": 22}},
                "y": {"field": "weight", "type": "quantitative",
                  "scale": {"domain": [0, 350], "nice": false},
                  "axis": {"values": [0, 50, 100, 150, 200, 250, 300, 350], "title": null,
                    "labelFontSize": 78, "labelPadding": 50, "tickSize": 23}},
                "shape": {"field": "s", "type": "nominal",
                  "scale": {"domain": ["D1", "D2", "D3", "D4"], "range": ["diamond", "diamond", "square", "triangle-up"]},
                  "legend": {"orient": "none", "legendX": 274, "legendY": -45, "direction": "horizontal", "title": null,
                    "labelFontSize": 63, "symbolSize": 1250, "columnPadding": 204, "labelOffset": 4, "padding": 0,
                    "encode": {"symbols": {"update": {"stroke": {"value": "black"}, "strokeWidth": {"value": 4}}}}}},
                "fill": {"field": "s", "type": "nominal",
                  "scale": {"domain": ["D1", "D2", "D3", "D4"], "range": ["#000000", "#8c8c8c", "#d4d4d4", "#ececec"]},
                  "legend": {"orient": "none", "legendX": 274, "legendY": -45, "direction": "horizontal", "title": null,
                    "labelFontSize": 63, "symbolSize": 1250, "columnPadding": 204, "labelOffset": 4, "padding": 0,
                    "encode": {"symbols": {"update": {"stroke": {"value": "black"}, "strokeWidth": {"value": 4}}}}}}
              }
            },
            {
              "data": {"values": [{"label": "Suwan 4452"}]},
              "mark": {"type": "text", "align": "left", "baseline": "middle", "fontSize": 90, "font": "Liberation Serif", "color": "black"},
              "encoding": {"x": {"datum": 5.6, "type": "quantitative"}, "y": {"datum": 302, "type": "quantitative"}, "text": {"field": "label"}}
            },
            {
              "data": {"values": [{"label": "Expt. 2"}]},
              "mark": {"type": "text", "align": "left", "baseline": "middle", "fontSize": 90, "fontStyle": "italic", "font": "Liberation Serif", "color": "black"},
              "encoding": {"x": {"datum": 11.5, "type": "quantitative"}, "y": {"datum": 257, "type": "quantitative"}, "text": {"field": "label"}}
            }
          ]
        }
      ],
      "spacing": 265,
      "resolve": {"scale": {"x": "independent", "y": "independent", "shape": "independent", "fill": "independent"},
        "legend": {"shape": "independent", "fill": "independent"}}
    }
  ],
  "spacing": 150,
  "center": true,
  "resolve": {"scale": {"x": "independent", "y": "independent", "shape": "independent", "fill": "independent"},
    "legend": {"shape": "independent", "fill": "independent"}}
}
